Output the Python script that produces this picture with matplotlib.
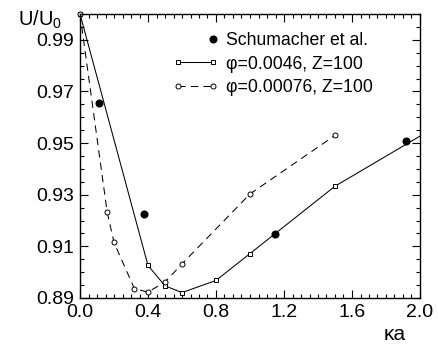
import matplotlib
matplotlib.use("Agg")
import matplotlib.pyplot as plt
from matplotlib.ticker import MultipleLocator
from matplotlib.legend_handler import HandlerLine2D

plt.rcParams['font.family'] = ['Liberation Sans', 'DejaVu Sans']

# Schumacher et al. (experiment)
schu_ka = [0.11, 0.375, 1.145, 1.92]
schu_u = [0.9657, 0.9226, 0.9148, 0.9507]

# phi=0.0046, Z=100
ka_a = [0.0, 0.4, 0.5, 0.6, 0.8, 1.0, 1.5, 2.0]
u_a = [1.0, 0.9026, 0.8947, 0.8921, 0.8968, 0.9072, 0.9333, 0.9527]

# phi=0.00076, Z=100
ka_b = [0.0, 0.16, 0.2, 0.32, 0.4, 0.5, 0.6, 1.0, 1.5]
u_b = [1.0, 0.9232, 0.9115, 0.8936, 0.8923, 0.8962, 0.9032, 0.9303, 0.9530]


# legend entry with just one marker, at the right end of the handle
class HandlerRightMarker(HandlerLine2D):
    def create_artists(self, legend, orig_handle, xdescent, ydescent,
                       width, height, fontsize, trans):
        arts = super().create_artists(legend, orig_handle, xdescent, ydescent,
                                      width, height, fontsize, trans)
        for a in arts:
            a.set_markevery([len(a.get_xdata()) - 1])
        return arts


fig = plt.figure(figsize=(4.39, 3.5), dpi=100)
ax = fig.add_axes([80/439, 1 - 298/350, 340/439, 284/350])

h1, = ax.plot(schu_ka, schu_u, 'o', color='black', ms=4.8, ls='none',
              label='Schumacher et al.')
ax.plot(ka_a, u_a, '-', color='black', lw=0.75, marker='s', ms=3.0,
        mfc='white', mec='black', mew=0.7, markevery=slice(0, -1),
        clip_on=False, label='φ=0.0046, Z=100')
ax.plot(ka_b, u_b, '--', color='black', lw=0.75, marker='o', ms=3.6,
        mfc='white', mec='black', mew=0.7, dashes=(7, 5),
        clip_on=False, label='φ=0.00076, Z=100')

ax.set_xlim(0, 2.0)
ax.set_ylim(0.89, 1.0)
ax.xaxis.set_minor_locator(MultipleLocator(0.05))
ax.yaxis.set_minor_locator(MultipleLocator(0.005))
ax.tick_params(which='both', direction='in', top=True, right=True,
               labelsize=14, width=0.8)
ax.tick_params(which='major', length=6, pad=4)
ax.tick_params(which='minor', length=3)
ax.set_xticks([0.0, 0.4, 0.8, 1.2, 1.6, 2.0])
ax.set_xticklabels(['0.0', '0.4', '0.8', '1.2', '1.6', '2.0'])
ax.set_yticks([0.89, 0.91, 0.93, 0.95, 0.97, 0.99])
ax.set_yticklabels(['0.89', '0.91', '0.93', '0.95', '0.97', '0.99'])
for s in ax.spines.values():
    s.set_linewidth(1.0)

fig.text(18/439, 1 - 20/350, 'U/U$_\\mathregular{0}$', fontsize=14.5, va='center')
fig.text(384/439, 1 - 334/350, 'κa', fontsize=15, va='center')

ax.legend(loc='upper left', bbox_to_anchor=(0.272, 0.935), frameon=False,
          fontsize=12.7, numpoints=2, handlelength=2.6, handletextpad=0.45,
          labelspacing=0.35, borderaxespad=0, borderpad=0,
          handler_map={h1: HandlerRightMarker()})

fig.savefig('out.png', dpi=100)
